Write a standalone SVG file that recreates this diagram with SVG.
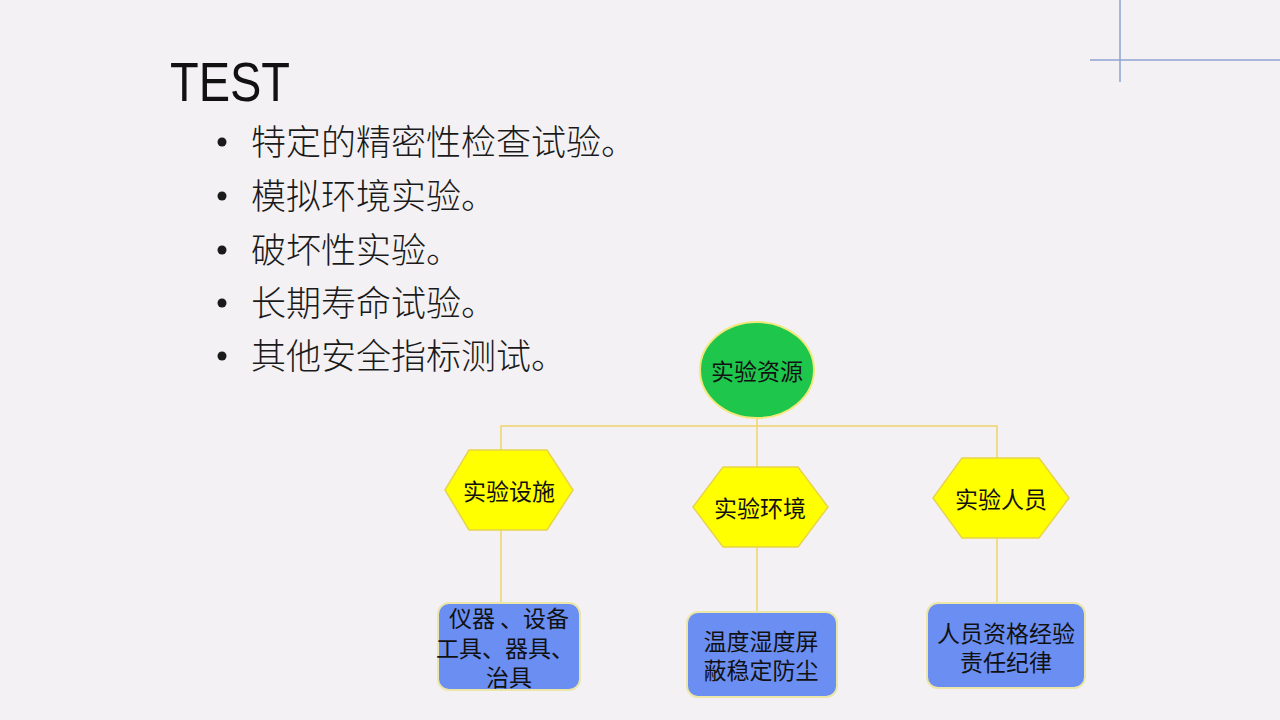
<svg xmlns="http://www.w3.org/2000/svg" width="1280" height="720" viewBox="0 0 1280 720">
<style>
.title{font-family:"Liberation Sans","Noto Sans",sans-serif;font-size:56px;fill:#111}
.bul{font-family:"Noto Sans CJK SC",sans-serif;font-size:35px;font-weight:300;fill:#1a1a1a}
.node{font-family:"Noto Sans CJK SC",sans-serif;font-size:23px;fill:#111;text-anchor:middle;dominant-baseline:central}
.hex{fill:#ffff00;stroke:#e8d44a;stroke-width:1.5}
.box{fill:#6b8ef2;stroke:#ece6a8;stroke-width:2}
.conn{stroke:#f0d36b;stroke-width:1.5;fill:none}
.deco{stroke:#8fa3d0;stroke-width:1.5}
</style>
<rect width="1280" height="720" fill="#f3f1f4"/>
<g id="decor">
<line class="deco" x1="1120" y1="0" x2="1120" y2="82"/>
<line class="deco" x1="1090" y1="60" x2="1280" y2="60"/>
</g>
<g id="text">
<text class="title" x="170" y="101" textLength="120" lengthAdjust="spacingAndGlyphs">TEST</text>
<g class="bul">
<circle cx="222" cy="142" r="4.5" fill="#1a1a1a"/>
<text x="251" y="155">特定的精密性检查试验。</text>
<circle cx="222" cy="196" r="4.5" fill="#1a1a1a"/>
<text x="251" y="209">模拟环境实验。</text>
<circle cx="222" cy="250" r="4.5" fill="#1a1a1a"/>
<text x="251" y="263">破坏性实验。</text>
<circle cx="222" cy="303" r="4.5" fill="#1a1a1a"/>
<text x="251" y="316">长期寿命试验。</text>
<circle cx="222" cy="356" r="4.5" fill="#1a1a1a"/>
<text x="251" y="369">其他安全指标测试。</text>
</g>
</g>
<g id="connectors">
<polyline class="conn" points="501,450 501,426 997,426 997,458"/>
<line class="conn" x1="757" y1="418" x2="757" y2="467"/>
<line class="conn" x1="501" y1="530" x2="501" y2="603"/>
<line class="conn" x1="757" y1="547" x2="757" y2="612"/>
<line class="conn" x1="997" y1="538" x2="997" y2="603"/>
</g>
<g id="root">
<ellipse cx="757" cy="370" rx="57" ry="48" fill="#1fc64c" stroke="#f2e87a" stroke-width="2"/>
<text class="node" x="757" y="370">实验资源</text>
</g>
<g id="hex1">
<polygon class="hex" points="445,490 469,450 547,450 573,490 547,530 469,530"/>
<text class="node" x="509" y="490">实验设施</text>
</g>
<g id="hex2">
<polygon class="hex" points="693,507 723,467 798,467 828,507 798,547 723,547"/>
<text class="node" x="760" y="507">实验环境</text>
</g>
<g id="hex3">
<polygon class="hex" points="933,498 962,458 1039,458 1069,498 1039,538 962,538"/>
<text class="node" x="1001" y="498">实验人员</text>
</g>
<g id="box1">
<rect class="box" x="438" y="603" width="142" height="87" rx="11"/>
<text class="node" x="509" y="617">仪器 、设备</text>
<text class="node" x="505" y="647">工具、器具、</text>
<text class="node" x="509" y="676">治具</text>
</g>
<g id="box2">
<rect class="box" x="687" y="612" width="150" height="85" rx="11"/>
<text class="node" x="761" y="640">温度湿度屏</text>
<text class="node" x="761" y="669">蔽稳定防尘</text>
</g>
<g id="box3">
<rect class="box" x="927" y="603" width="158" height="85" rx="11"/>
<text class="node" x="1006" y="632">人员资格经验</text>
<text class="node" x="1006" y="661">责任纪律</text>
</g>
</svg>
